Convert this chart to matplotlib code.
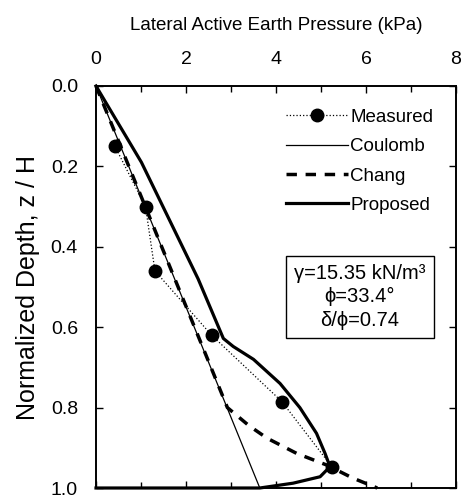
import matplotlib
matplotlib.use('Agg')
import matplotlib.pyplot as plt
from matplotlib.ticker import MultipleLocator

plt.rcParams['font.family'] = ['Liberation Sans', 'DejaVu Sans']

# measured data
meas_x = [0.42, 1.10, 1.31, 2.57, 4.13, 5.24]
meas_z = [0.15, 0.30, 0.46, 0.62, 0.785, 0.947]

# Coulomb
coul_x = [0.0, 3.64]
coul_z = [0.0, 1.0]

# Chang
chang_x = [0.0, 2.92, 3.4, 3.8, 4.46, 5.13, 5.7, 6.25]
chang_z = [0.0, 0.80, 0.845, 0.876, 0.914, 0.943, 0.975, 1.0]

# Proposed
prop_x = [0.0, 1.01, 2.27, 2.83, 3.05, 3.5, 4.09, 4.53, 4.9, 5.09, 5.2, 4.98, 4.38, 3.64, 0.0]
prop_z = [0.0, 0.19, 0.48, 0.628, 0.648, 0.68, 0.74, 0.80, 0.864, 0.914, 0.947, 0.972, 0.988, 1.0, 1.0]

fig = plt.figure(figsize=(4.61, 4.98), dpi=100)
ax = fig.add_axes([96 / 461, 1 - 488 / 498, 360 / 461, 402 / 498])

ax.plot(meas_x, meas_z, ':', color='black', lw=0.9, marker='o', ms=9,
        label='Measured')
ax.plot(coul_x, coul_z, '-', color='black', lw=0.9, label='Coulomb')
ax.plot(chang_x, chang_z, '--', color='black', lw=2.5, dashes=(3, 2.5),
        label='Chang', clip_on=False)
ax.plot(prop_x, prop_z, '-', color='black', lw=2.3, label='Proposed',
        clip_on=False)

ax.set_xlim(0, 8)
ax.set_ylim(1.0, 0.0)
ax.xaxis.set_major_locator(MultipleLocator(2))
ax.xaxis.set_minor_locator(MultipleLocator(1))
ax.yaxis.set_major_locator(MultipleLocator(0.2))
ax.yaxis.set_major_formatter(plt.FormatStrFormatter('%.1f'))
ax.xaxis.tick_top()
ax.xaxis.set_label_position('top')
ax.tick_params(which='both', direction='in', top=True, bottom=True,
               left=True, right=True, labelsize=14, width=1)
ax.tick_params(which='major', length=5, pad=13)
ax.tick_params(which='minor', length=4)
for s in ax.spines.values():
    s.set_linewidth(1.4)

ax.set_xlabel('Lateral Active Earth Pressure (kPa)', fontsize=13.5, labelpad=15)
ax.set_ylabel('Normalized Depth, z / H', fontsize=18, labelpad=8)

ax.legend(loc='upper left', bbox_to_anchor=(0.48, 0.985), frameon=False,
          fontsize=13.5, handlelength=3.3, handletextpad=0.15,
          labelspacing=0.65)

ax.text(0.733, 0.476, 'γ=15.35 kN/m³\nϕ=33.4°\nδ/ϕ=0.74',
        transform=ax.transAxes, ha='center', va='center', fontsize=14.5,
        linespacing=1.3,
        bbox=dict(boxstyle='square,pad=0.4', fc='white', ec='black', lw=1))

fig.savefig('out.png', dpi=100)
